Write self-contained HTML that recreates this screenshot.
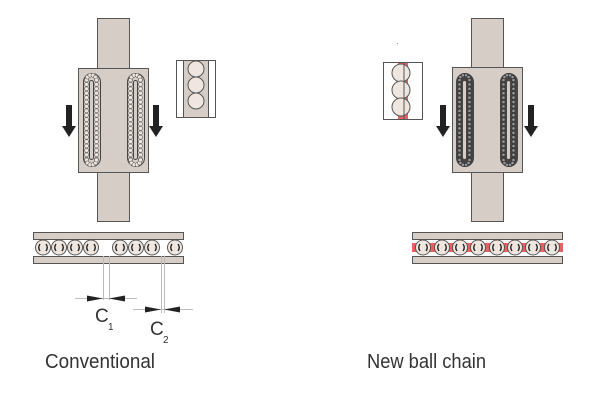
<!DOCTYPE html>
<html><head><meta charset="utf-8"><style>
html,body{margin:0;padding:0;background:#fff;width:600px;height:400px;overflow:hidden}
svg{display:block}
text{font-family:"Liberation Sans",sans-serif;fill:#333}
</style></head><body>
<svg id="s" width="600" height="400" viewBox="0 0 600 400" xmlns="http://www.w3.org/2000/svg">
<g stroke="#555" stroke-width="1" fill="#d6cec6">
<rect x="97.5" y="18.5" width="32" height="203"/>
<rect x="78.5" y="68.5" width="70" height="104"/>
<rect x="471.5" y="18.5" width="32" height="203"/>
<rect x="452.5" y="67.5" width="70" height="105"/>
</g>
<g id="tracks"></g>
<g fill="#222">
<rect x="66" y="105" width="6" height="22"/><polygon points="62,126 76,126 69,137"/>
<rect x="153" y="105" width="6" height="22"/><polygon points="149,126 163,126 156,137"/>
<rect x="440" y="105" width="6" height="22"/><polygon points="436,126 450,126 443,137"/>
<rect x="528" y="105" width="6" height="22"/><polygon points="524,126 538,126 531,137"/>
</g>
<rect x="176.5" y="60.5" width="39" height="57" fill="#fff" stroke="#555"/>
<g stroke="#555" fill="none"><line x1="183.5" y1="60" x2="183.5" y2="117"/><line x1="208.5" y1="60" x2="208.5" y2="117"/></g>
<rect x="184" y="61" width="24" height="56" fill="#d6cec6"/>
<g stroke="#555" fill="#efe7df"><circle cx="196" cy="69" r="8"/><circle cx="196" cy="85" r="8"/><circle cx="196" cy="101" r="8"/></g>
<rect x="383.5" y="62.5" width="39" height="57" fill="#fff" stroke="#555"/>
<rect x="398" y="63" width="10" height="56" fill="#e86060"/>
<g stroke="#555" fill="#efe7df"><circle cx="401" cy="73" r="9"/><circle cx="401" cy="90" r="9"/><circle cx="401" cy="107" r="9"/></g>
<line x1="404" y1="63" x2="404" y2="119" stroke="#555"/>
<rect x="397" y="43" width="1" height="1" fill="#999"/>
<g stroke="#555" fill="#d6cec6">
<rect x="33.5" y="232.5" width="150" height="7"/><rect x="33.5" y="256.5" width="150" height="7"/>
<rect x="412.5" y="232.5" width="150" height="7"/><rect x="412.5" y="256.5" width="150" height="7"/>
</g>
<rect x="412" y="243" width="151" height="9" fill="#e86060"/>
<g id="balls"></g>
<g stroke="#bbb" stroke-width="1">
<line x1="103.5" y1="256" x2="103.5" y2="300"/><line x1="109.5" y1="256" x2="109.5" y2="300"/>
<line x1="161.5" y1="256" x2="161.5" y2="313"/><line x1="164.5" y1="256" x2="164.5" y2="313"/>
<line x1="75" y1="298.5" x2="137" y2="298.5"/><line x1="133" y1="309.5" x2="193" y2="309.5"/>
</g>
<g fill="#222">
<polygon points="87,295.5 103,298.5 87,301.5"/><polygon points="125,295.5 109,298.5 125,301.5"/>
<polygon points="145,306.5 161,309.5 145,312.5"/><polygon points="180,306.5 164,309.5 180,312.5"/>
</g>
<text x="95" y="322" font-size="19">C</text><text x="108" y="330" font-size="10">1</text>
<text x="150" y="335" font-size="19">C</text><text x="163" y="343" font-size="10">2</text>
<text x="45" y="368" font-size="20" textLength="110" lengthAdjust="spacingAndGlyphs">Conventional</text>
<text x="367" y="368" font-size="20" textLength="119" lengthAdjust="spacingAndGlyphs">New ball chain</text>
</svg>
<script>
var NS="http://www.w3.org/2000/svg";
function el(p,t,a){var e=document.createElementNS(NS,t);for(var k in a)e.setAttribute(k,a[k]);p.appendChild(e);return e;}
var tr=document.getElementById("tracks");
function track(x,dark){
 el(tr,"rect",{x:x+0.5,y:73.5,width:17,height:93,rx:8.5,fill:dark?"#444":"#d6cec6",stroke:"#444"});
 el(tr,"rect",{x:x+6.5,y:80.5,width:4,height:79,rx:2,fill:"#d6cec6",stroke:"#444"});
 var pts=[];
 for(var y=80;y<=160;y+=4.4){pts.push([x+3.5,y]);pts.push([x+13.5,y]);}
 for(var a=0;a<=180;a+=36){var r=a*Math.PI/180;pts.push([x+8.5-5*Math.cos(r),80-5*Math.sin(r)]);pts.push([x+8.5-5*Math.cos(r),160+5*Math.sin(r)]);}
 pts.forEach(function(p){el(tr,"circle",{cx:p[0],cy:p[1],r:dark?1.6:2,fill:dark?"#999":"#efe7df",stroke:dark?"#333":"#555","stroke-width":0.6});});
}
track(83,0);track(127,0);track(456,1);track(500,1);
var b=document.getElementById("balls");
function ball(cx){
 el(b,"circle",{cx:cx,cy:247.5,r:7.5,fill:"#efe7df",stroke:"#555"});
 el(b,"path",{d:"M"+(cx-3)+",244 q-2.5,3.5 0,7 M"+(cx+3)+",244 q2.5,3.5 0,7",fill:"none",stroke:"#222","stroke-width":1.4});
}
[43,59,75,91,120,136,152,175].forEach(ball);
[423,442,460,478,497,515,533,552].forEach(ball);
</script>
</body></html>
